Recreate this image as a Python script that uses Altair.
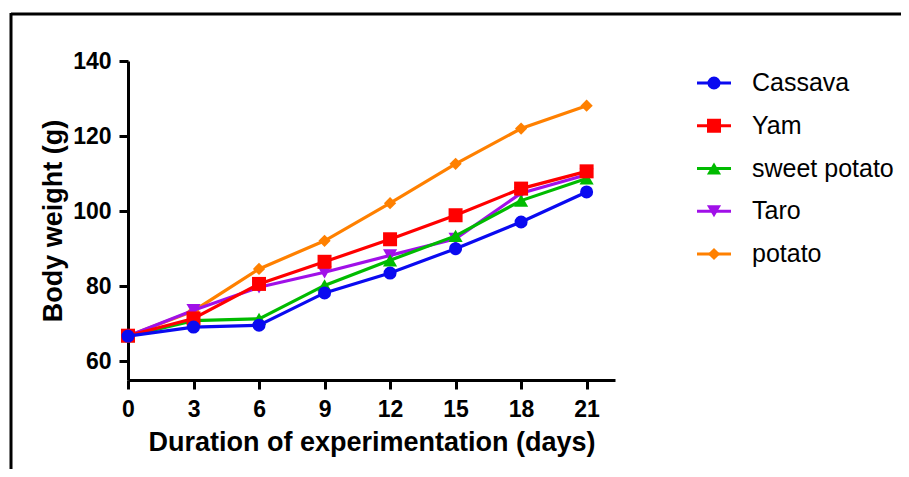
import altair as alt
import pandas as pd

days = [0, 3, 6, 9, 12, 15, 18, 21]
series_names = ["Cassava", "Yam", "sweet potato", "Taro", "potato"]
cassava = [66.7, 69.1, 69.6, 78.2, 83.5, 90.0, 97.1, 105.1]
yam = [66.8, 71.4, 80.6, 86.5, 92.5, 98.9, 106.0, 110.6]
sweet_potato = [66.7, 70.8, 71.3, 80.2, 86.9, 93.4, 102.8, 108.7]
taro = [66.7, 73.6, 79.7, 83.7, 88.2, 92.6, 104.8, 109.7]
potato = [66.7, 73.4, 84.6, 92.1, 102.1, 112.6, 122.0, 128.1]
series_values = [cassava, yam, sweet_potato, taro, potato]
colors = ["#0a0af0", "#ff0000", "#00bb00", "#a010e8", "#ff8000"]
shapes = ["circle", "square", "triangle-up", "triangle-down", "diamond"]
sizes = [170, 196, 200, 200, 150]

rows = []
for name, vals in zip(series_names, series_values):
    for d, v in zip(days, vals):
        rows.append({"day": d, "weight": v, "series": name})
df = pd.DataFrame(rows)

FONT = "Liberation Sans"

color_scale = alt.Scale(domain=series_names, range=colors)
shape_scale = alt.Scale(domain=series_names, range=shapes)

x_enc = alt.X("day:Q", scale=alt.Scale(domain=[0, 22.3], nice=False, zero=False),
              axis=alt.Axis(values=days, title="Duration of experimentation (days)"))
y_enc = alt.Y("weight:Q", scale=alt.Scale(domain=[55, 140], nice=False, zero=False),
              axis=alt.Axis(values=[60, 80, 100, 120, 140], title="Body weight (g)"))

data_layers = []
for i in reversed(range(len(series_names))):
    name = series_names[i]
    base = alt.Chart(df).transform_filter(alt.datum.series == name)
    line = base.mark_line(strokeWidth=3.2, color=colors[i]).encode(x=x_enc, y=y_enc)
    pts = base.mark_point(filled=True, opacity=1, shape=shapes[i], size=sizes[i],
                          color=colors[i]).encode(x=x_enc, y=y_enc)
    data_layers += [line, pts]
data_chart = alt.layer(*data_layers)

leg_df = pd.DataFrame({"series": series_names, "shape": shapes, "size": sizes})
leg_y = alt.Y("series:N", scale=alt.Scale(type="point", domain=series_names,
                                          range=[22, 193], padding=0), axis=None)
leg_base = alt.Chart(leg_df)
leg_rule = leg_base.mark_rule(strokeWidth=3.2).encode(
    x=alt.value(569), x2=alt.value(603), y=leg_y,
    color=alt.Color("series:N", scale=color_scale, legend=None))
leg_pts = leg_base.mark_point(filled=True, opacity=1).encode(
    x=alt.value(586), y=leg_y,
    color=alt.Color("series:N", scale=color_scale, legend=None),
    shape=alt.Shape("series:N", scale=shape_scale, legend=None),
    size=alt.Size("size:Q", scale=None, legend=None))
leg_text = leg_base.mark_text(align="left", baseline="middle", font=FONT,
                              fontSize=25, color="black").encode(
    x=alt.value(624), y=leg_y, text="series:N")
legend_chart = alt.layer(leg_rule, leg_pts, leg_text)

frame_df = pd.DataFrame({"k": [0]})
frame_top = alt.Chart(frame_df).mark_rule(color="black", strokeWidth=3).encode(
    x=alt.value(-117), x2=alt.value(800), y=alt.value(-47))
frame_left = alt.Chart(frame_df).mark_rule(color="black", strokeWidth=3).encode(
    x=alt.value(-117), y=alt.value(-48), y2=alt.value(500))

chart = alt.layer(data_chart, legend_chart, frame_top, frame_left).resolve_scale(
    y="independent", color="independent"
).properties(
    width=487, height=319,
    autosize=alt.AutoSizeParams(type="none"),
    padding={"left": 120, "top": 53, "right": 286, "bottom": 89},
).configure_view(stroke=None).configure_axis(
    grid=False,
    domainColor="black", domainWidth=3,
    tickColor="black", tickWidth=3, tickSize=9,
    labelFont=FONT, labelFontSize=23, labelFontWeight="bold", labelColor="black",
    titleFont=FONT, titleFontSize=27, titleFontWeight="bold", titleColor="black",
).configure_axisX(titlePadding=8, labelPadding=9, labelFlush=False).configure_axisY(
    titlePadding=5, labelPadding=8, labelFlush=False)

chart.save("out.html", embed_options={"renderer": "svg", "actions": False})
